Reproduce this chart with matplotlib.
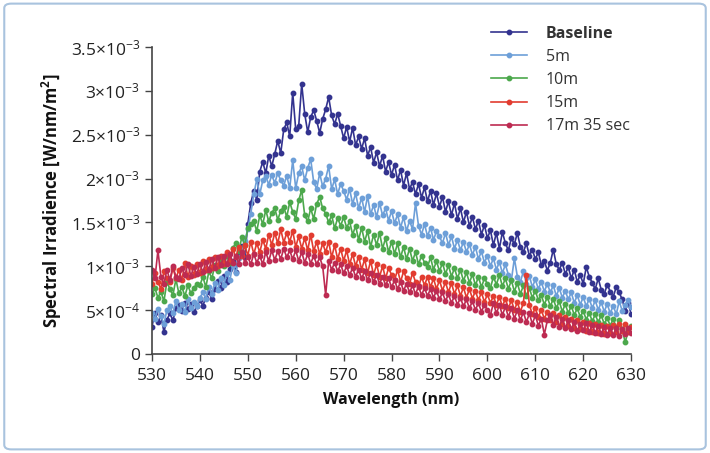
import numpy as np
import matplotlib
matplotlib.use("Agg")
import matplotlib.pyplot as plt
from matplotlib.patches import FancyBboxPatch

plt.rcParams['font.family'] = ['Open Sans', 'DejaVu Sans']
plt.rcParams['mathtext.default'] = 'regular'

# wavelength grid (nm), 0.625 nm sampling
wavelength = np.linspace(530, 630, 161)

# values in units of 1e-4 W/nm/m^2
baseline = [
    3.1, 4.7, 3.6, 4.4, 2.5, 3.9, 4.6, 3.8, 5.2, 5.6, 4.9, 5.8, 5.1, 5.7, 4.8, 5.4,
    6.1, 5.5, 6.4, 7.1, 6.2, 7.4, 8.3, 7.5, 8.9, 8.2, 9.7, 10.6, 9.3, 11.4, 12.3, 11.0,
    14.8, 17.2, 18.6, 17.6, 20.8, 21.9, 20.6, 22.6, 21.4, 22.8, 24.3, 22.9, 25.6, 26.4, 24.8, 29.8,
    25.6, 26.0, 30.8, 27.4, 25.3, 27.0, 27.8, 26.6, 25.2, 26.8, 27.9, 29.3, 27.2, 26.2, 27.4, 26.0,
    24.6, 25.9, 24.2, 25.8, 23.8, 24.8, 23.4, 24.6, 22.6, 23.6, 21.8, 23.0, 21.4, 22.6, 20.8, 21.9,
    20.4, 21.6, 19.8, 21.0, 19.2, 20.6, 18.8, 19.6, 18.2, 19.4, 17.8, 19.0, 17.4, 18.6, 17.0, 18.3,
    16.8, 17.9, 16.2, 17.4, 15.8, 17.2, 15.4, 16.6, 15.0, 16.2, 14.6, 15.6, 14.2, 15.2, 13.6, 14.7,
    13.2, 14.1, 12.4, 13.8, 12.0, 13.9, 12.6, 11.8, 13.2, 12.5, 13.8, 12.2, 11.6, 12.6, 11.2, 11.9,
    10.8, 11.6, 10.1, 10.6, 9.5, 10.4, 11.9, 10.2, 9.6, 10.4, 9.1, 9.9, 8.6, 9.6, 8.2, 9.0,
    8.0, 9.9, 8.8, 8.1, 7.4, 8.6, 7.3, 6.8, 7.9, 7.1, 6.5, 7.6, 7.0, 6.2, 4.9, 5.8, 4.5,
]
five_min = [
    4.6, 4.0, 5.1, 4.3, 3.4, 5.0, 5.4, 4.6, 6.0, 5.0, 5.7, 4.8, 6.3, 5.2, 5.9, 5.4,
    6.4, 7.0, 6.3, 7.6, 6.8, 8.1, 7.3, 8.6, 7.9, 9.2, 8.4, 10.1, 9.2, 10.9, 11.6, 12.9,
    14.2, 16.0, 18.2, 19.9, 18.2, 19.8, 20.3, 19.3, 20.4, 19.5, 20.6, 19.8, 19.2, 20.3, 18.9, 22.1,
    18.9, 20.6, 21.4, 19.8, 21.2, 22.2, 19.6, 18.8, 20.6, 19.1, 20.0, 21.4, 18.8, 19.9, 18.2, 19.4,
    18.6, 17.6, 18.8, 17.1, 18.3, 16.6, 17.8, 16.2, 18.0, 15.9, 17.0, 15.6, 17.2, 15.8, 16.6, 15.2,
    16.3, 14.9, 15.9, 14.4, 15.6, 14.0, 15.2, 14.2, 17.2, 14.6, 13.6, 14.8, 13.4, 14.4, 13.0, 14.0,
    13.4, 12.6, 13.8, 12.4, 13.4, 12.0, 13.0, 11.8, 12.8, 11.6, 12.5, 11.3, 12.2, 10.8, 11.7, 10.4,
    11.2, 10.0, 10.9, 9.6, 10.5, 9.2, 10.2, 9.0, 8.4, 10.9, 8.8, 8.2, 9.4, 8.0, 8.9, 7.6,
    8.5, 7.4, 8.2, 7.1, 8.0, 7.0, 7.8, 6.6, 7.5, 6.4, 7.2, 6.2, 7.0, 5.8, 6.7, 5.6,
    6.5, 5.4, 6.3, 5.2, 6.1, 5.0, 5.9, 4.8, 5.7, 4.6, 5.5, 4.5, 6.0, 4.9, 5.6, 6.1, 5.3,
]
ten_min = [
    6.8, 7.5, 6.4, 7.1, 6.0, 8.2, 7.4, 6.7, 8.5, 6.9, 7.6, 6.6, 7.8, 6.9, 7.5, 8.0,
    7.8, 8.8, 7.6, 9.4, 8.6, 10.1, 9.4, 10.7, 10.0, 11.2, 10.4, 12.1, 12.6, 11.7, 13.3, 12.4,
    14.3, 14.8, 15.1, 14.0, 15.8, 14.8, 16.4, 15.1, 16.1, 16.6, 15.3, 16.3, 16.8, 15.6, 17.3, 16.2,
    15.4, 17.5, 18.7, 15.8, 15.1, 16.6, 15.4, 17.1, 17.9, 16.6, 16.0, 15.0, 15.8, 14.3, 15.5, 14.6,
    15.6, 14.4, 15.1, 13.6, 14.6, 13.0, 14.4, 12.8, 14.0, 12.2, 13.6, 12.4, 13.8, 12.0, 13.2, 11.6,
    12.8, 11.4, 12.6, 11.0, 12.2, 10.8, 12.0, 10.6, 11.6, 10.2, 11.2, 10.4, 9.9, 11.0, 9.6, 10.6,
    9.4, 10.4, 9.1, 10.1, 8.8, 9.8, 8.6, 9.6, 8.3, 9.3, 8.1, 9.1, 7.8, 8.8, 7.6, 8.6,
    8.0, 7.5, 8.8, 7.9, 9.0, 7.7, 8.6, 7.4, 8.4, 7.1, 8.1, 6.8, 7.8, 6.6, 7.5, 6.4,
    7.2, 6.1, 6.7, 5.6, 6.5, 5.4, 6.3, 5.2, 6.0, 4.8, 5.7, 4.6, 5.5, 4.4, 5.2, 4.2,
    4.9, 3.9, 4.7, 3.7, 4.5, 3.6, 4.4, 3.4, 4.1, 3.2, 4.0, 3.0, 3.8, 2.8, 1.3, 2.6, 3.2,
]
fifteen_min = [
    8.0, 9.2, 8.2, 7.4, 9.4, 8.6, 8.2, 9.8, 8.6, 9.6, 8.4, 10.4, 8.8, 10.0, 9.0, 10.2,
    9.2, 10.6, 9.6, 10.8, 9.8, 11.1, 10.0, 11.2, 10.3, 11.6, 10.6, 12.0, 11.0, 12.2, 11.2, 12.4,
    11.2, 12.8, 11.4, 12.6, 11.6, 13.0, 12.0, 13.6, 12.4, 13.8, 12.6, 14.2, 12.7, 13.8, 12.8, 14.0,
    12.2, 13.4, 12.0, 13.2, 11.8, 13.6, 11.7, 12.8, 11.4, 12.6, 11.6, 12.8, 11.0, 12.4, 10.8, 12.0,
    10.6, 11.8, 10.2, 11.4, 10.0, 11.1, 9.6, 10.8, 9.2, 10.6, 9.0, 10.2, 8.8, 10.0, 8.6, 9.8,
    9.0, 8.4, 9.6, 8.2, 9.4, 8.6, 8.0, 9.2, 8.2, 7.6, 8.8, 7.8, 8.8, 7.6, 8.6, 7.4,
    8.4, 7.2, 8.2, 7.0, 8.1, 6.8, 7.8, 6.6, 7.6, 6.4, 7.4, 6.3, 7.2, 6.1, 7.0, 5.9,
    6.8, 5.8, 6.6, 5.6, 6.5, 5.4, 6.3, 5.2, 6.1, 5.0, 5.9, 4.8, 5.8, 9.0, 5.6, 4.5,
    5.2, 4.2, 5.0, 4.0, 4.8, 3.8, 4.6, 3.6, 4.4, 3.4, 4.2, 3.2, 4.0, 3.0, 3.8, 2.8,
    3.6, 2.6, 3.5, 2.5, 3.4, 2.4, 3.3, 2.3, 3.2, 2.4, 3.3, 2.5, 3.4, 2.6, 3.4, 2.5, 3.1,
]
seventeen_min = [
    9.6, 8.6, 11.8, 8.8, 8.0, 9.6, 8.4, 10.0, 8.8, 8.5, 9.8, 9.0, 10.2, 8.9, 9.9, 9.1,
    10.3, 9.3, 10.5, 9.6, 10.8, 9.8, 11.0, 10.1, 11.2, 10.2, 11.4, 10.4, 11.2, 10.3, 11.6, 10.4,
    11.1, 10.2, 11.4, 10.4, 11.2, 10.2, 11.6, 10.6, 11.8, 10.7, 11.7, 10.8, 12.0, 11.0, 11.8, 10.8,
    11.8, 10.6, 11.6, 10.4, 11.4, 10.3, 11.2, 10.2, 11.0, 10.0, 6.7, 10.6, 9.6, 10.4, 9.4, 10.2,
    9.2, 10.0, 9.0, 9.8, 8.8, 9.6, 8.6, 9.4, 8.4, 9.2, 8.2, 9.0, 8.0, 8.8, 7.8, 8.6,
    7.6, 8.4, 7.4, 8.2, 7.2, 8.0, 7.0, 7.8, 6.8, 7.7, 6.7, 7.5, 6.6, 7.4, 6.4, 7.2,
    6.2, 7.0, 6.0, 6.8, 5.8, 6.6, 5.6, 6.4, 5.4, 6.2, 5.2, 6.0, 5.0, 5.8, 4.8, 5.6,
    5.0, 4.4, 5.8, 4.6, 5.6, 4.4, 5.4, 4.2, 5.2, 4.0, 5.0, 3.8, 4.8, 3.6, 4.6, 3.4,
    4.4, 3.2, 4.0, 2.2, 3.8, 4.4, 3.3, 4.2, 3.1, 4.0, 2.9, 3.8, 2.8, 3.6, 2.6, 3.4,
    2.7, 3.5, 2.5, 3.3, 2.4, 3.2, 2.3, 3.1, 2.2, 3.0, 2.1, 2.9, 2.0, 2.8, 2.3, 3.0, 2.4,
]

series_names = ["Baseline", "5m", "10m", "15m", "17m 35 sec"]
series_values = [baseline, five_min, ten_min, fifteen_min, seventeen_min]
series_colors = ["#33338f", "#6d9fd8", "#4ca84c", "#e23c30", "#bd2b52"]

yticks = [0, 5e-4, 1e-3, 1.5e-3, 2e-3, 2.5e-3, 3e-3, 3.5e-3]
ytick_labels = ["0", r"$5{\times}10^{-4}$", r"$1{\times}10^{-3}$", r"$1.5{\times}10^{-3}$",
                r"$2{\times}10^{-3}$", r"$2.5{\times}10^{-3}$", r"$3{\times}10^{-3}$",
                r"$3.5{\times}10^{-3}$"]
xticks = [530, 540, 550, 560, 570, 580, 590, 600, 610, 620, 630]

fig = plt.figure(figsize=(7.10, 4.53), dpi=100)
ax = fig.add_axes([0.214, 0.219, 0.675, 0.677])

handles = []
for name, vals, col in zip(series_names, series_values, series_colors):
    h, = ax.plot(wavelength, np.array(vals) * 1e-4, color=col, lw=1.2,
                 marker='o', ms=3.2, mec=col, mfc=col, label=name)
    handles.append(h)

ax.set_xlim(530, 630)
ax.set_ylim(0, 3.5e-3)
ax.set_xticks(xticks)
ax.set_xticklabels([str(t) for t in xticks])
ax.set_yticks(yticks)
ax.set_yticklabels(ytick_labels)
ax.tick_params(axis='both', direction='out', length=5, width=1.0, color='#444444',
               labelsize=12.5, labelcolor='#222222')
ax.tick_params(axis='x', pad=5)
for s in ['top', 'right']:
    ax.spines[s].set_visible(False)
for s in ['left', 'bottom']:
    ax.spines[s].set_color('#444444')
    ax.spines[s].set_linewidth(1.2)

ax.set_xlabel("Wavelength (nm)", fontsize=11.5, fontweight='bold', color='#111111', labelpad=6)
ax.set_ylabel(r"Spectral Irradience [W/nm/m$^{2}$]", fontsize=12, fontweight='bold',
              color='#111111', labelpad=5)

leg = fig.legend(handles=handles, labels=series_names, loc='upper left',
                 bbox_to_anchor=(0.672, 0.975), frameon=False, fontsize=11.5,
                 handlelength=2.2, handletextpad=1.2, labelspacing=0.45, numpoints=1)
for t in leg.get_texts():
    t.set_color('#333333')
leg.get_texts()[0].set_fontweight('bold')

border = FancyBboxPatch((0.006, 0.008), 0.988, 0.984, boxstyle="round,pad=0,rounding_size=0.01",
                        transform=fig.transFigure, fill=False, edgecolor='#a9c3de', lw=1.5)
fig.patches.append(border)

fig.savefig("out.png", dpi=100)
